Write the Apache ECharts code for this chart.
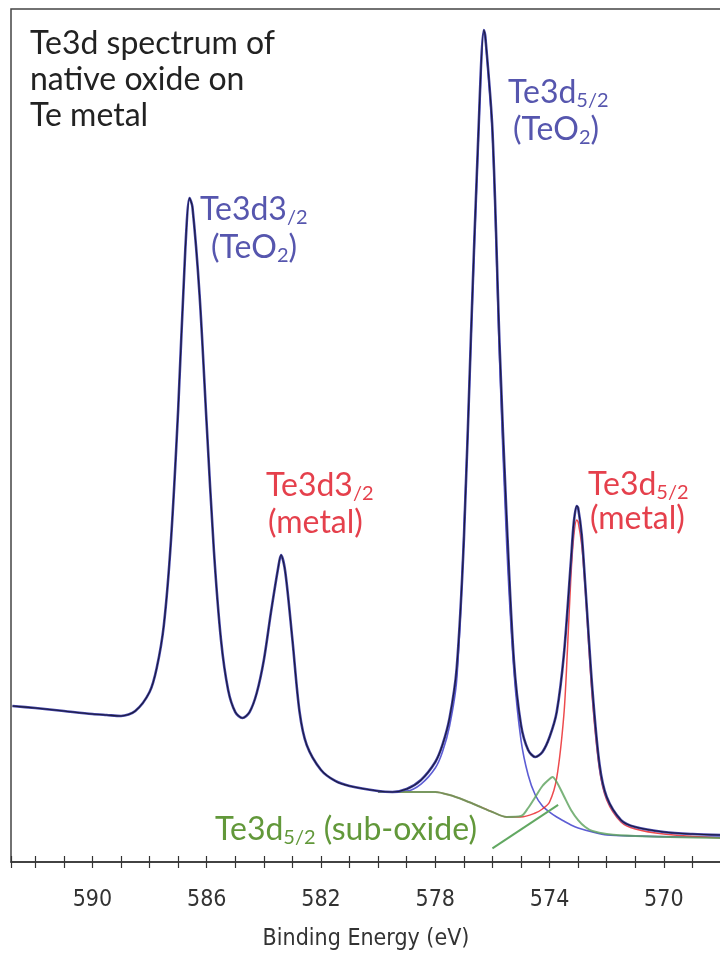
<!DOCTYPE html>
<html><head><meta charset="utf-8">
<script src="https://cdn.jsdelivr.net/npm/echarts@6/dist/echarts.min.js"></script>
<style>html,body{margin:0;padding:0;overflow:hidden;background:#fff}#c{width:724px;height:957px}</style>
</head><body><div id="c"></div>
<script>
// Binding energy (eV) and measured / fitted envelope intensity (a.u.)
const energy = [592.8,592,591,590,589.5,589,588.5,588,587.75,587.5,587.25,587,586.75,586.6,586.5,586.25,586,585.75,585.5,585.25,585,584.75,584.5,584.25,584,583.75,583.5,583.4,583.25,583,582.75,582.5,582,581.5,581,580,579.5,579,578.5,578,577.75,577.5,577.25,577,576.75,576.5,576.3,576.25,576,575.75,575.5,575.25,575,574.75,574.5,574.25,574,573.75,573.5,573.25,573.15,573.05,573,572.875,572.75,572.5,572.25,572,571.5,571,570,569,568];
const envelope = [18.29,18.05,17.70,17.35,17.23,17.12,17.70,19.93,22.74,27.78,37.75,52.99,71.75,77.84,76.79,66.47,51.23,36.58,26.03,20.16,17.58,16.88,17.58,19.81,23.68,29.31,34.47,35.99,34.0,26.03,17.58,13.72,10.79,9.50,8.91,8.32,8.21,8.56,9.61,11.72,13.72,16.88,22.74,37.75,61.78,84.64,97.54,96.83,85.82,60.61,40.09,23.68,16.06,13.13,12.31,12.90,14.65,17.58,24.27,35.40,39.86,41.74,41.50,38.34,32.47,20.16,11.37,7.62,4.92,4.10,3.52,3.28,3.17];

// Te3d5/2 TeO2 component (with background)
const teo2Energy = [580,579,578.5,578,577.75,577.5,577.25,577,576.75,576.5,576.3,576.25,576,575.75,575.5,575.25,575,574.75,574.5,574.25,574,573.75,573.5,573.25,573,572.5,572,571,569,568];
const teo2 = [8.21,8.32,9.14,11.02,12.90,15.94,21.34,38.34,61.2,84.06,97.3,96.7,85.2,58.85,37.16,22.5,14.3,10.2,7.85,6.57,5.86,5.28,4.8,4.34,3.99,3.52,3.17,3.05,2.93,2.93];

// Te3d5/2 metal component (with background)
const metalEnergy = [580,579,578,577.5,577,576.5,576,575.5,575,574.5,574.25,574,573.75,573.5,573.375,573.25,573.15,573.05,573,572.875,572.75,572.5,572.25,572,571.5,571,570,568];
const metal = [8.21,8.21,8.21,7.85,7.27,6.57,5.86,5.28,5.28,5.74,6.21,7.03,9.85,17.23,24.85,33.65,38.33,40.1,39.86,37.16,31.89,19.0,10.79,7.27,4.69,3.87,3.28,2.81];

// Te3d5/2 sub-oxide component (with background)
const subEnergy = [580,579,578,577.5,577,576.5,576,575.5,575,574.75,574.5,574.25,574,573.9,573.75,573.5,573.25,573,572.75,572.5,572,571,568];
const subOxide = [8.21,8.21,8.21,7.85,7.27,6.57,5.86,5.28,5.39,6.33,7.62,8.91,9.73,9.96,9.38,7.74,6.1,4.92,4.1,3.63,3.28,3.05,2.81];

// leader line for the sub-oxide label (energy, intensity)
const pointer = [[576.0, 1.6], [573.7, 6.7]];

const tickLabels = [590, 586, 582, 578, 574, 570];

const zip = (xs, ys) => xs.map((x, i) => [x, ys[i]]);

const blueTxt = '#5656ae', redTxt = '#e5404c', greenTxt = '#62983a';
const lab = 'Lato, "Open Sans", sans-serif';
function richStyle(color) {
  return {
    m: {fontSize: 32, fontFamily: lab, color: color, lineHeight: 36},
    s: {fontSize: 20, fontFamily: lab, color: color, lineHeight: 20, verticalAlign: 'bottom'}
  };
}
function label(x, y, text, color) {
  return {type: 'text', left: x, top: y - 18, z: 10,
    style: {text: text, rich: richStyle(color), fill: color}};
}

const chart = echarts.init(document.getElementById('c'), null, {renderer: 'canvas'});
const axisFont = '"Liberation Sans Narrow", "Arial Narrow", "DejaVu Sans Condensed", "Liberation Sans", sans-serif';
chart.setOption({
  animation: false,
  backgroundColor: '#fff',
  grid: {left: 11, right: 2, top: 9, bottom: 95, show: true, borderColor: '#444', borderWidth: 1.5},
  xAxis: [{
    type: 'value', min: 568, max: 592.85, inverse: true, interval: 1,
    axisLine: {show: true, lineStyle: {color: '#333', width: 1.5}},
    axisTick: {show: true, inside: false, length: 6, lineStyle: {color: '#333', width: 1.2}},
    splitLine: {show: false},
    axisLabel: {margin: 27, fontSize: 23, fontFamily: axisFont, color: '#333',
      formatter: v => tickLabels.includes(v) ? String(v) : ''},
    name: 'Binding Energy (eV)', nameLocation: 'middle', nameGap: 66,
    nameTextStyle: {fontSize: 23, fontFamily: axisFont, color: '#333'}
  }, {
    type: 'value', min: 568, max: 592.85, inverse: true, interval: 1, position: 'bottom',
    axisLine: {show: false}, axisLabel: {show: false}, splitLine: {show: false},
    axisTick: {show: true, inside: true, length: 6, lineStyle: {color: '#333', width: 1.2}}
  }],
  yAxis: {type: 'value', min: 0, max: 100, show: false},
  series: [
    {name: 'Te3d5/2 TeO2', type: 'line', data: zip(teo2Energy, teo2), smooth: 0.3, showSymbol: false,
      lineStyle: {color: '#5d5dd4', width: 1.6}, z: 2},
    {name: 'Te3d5/2 metal', type: 'line', data: zip(metalEnergy, metal), smooth: 0.3, showSymbol: false,
      lineStyle: {color: '#ea2a2e', width: 1.5, opacity: 0.85}, z: 3},
    {name: 'Te3d5/2 sub-oxide', type: 'line', data: zip(subEnergy, subOxide), smooth: 0.3, showSymbol: false,
      lineStyle: {color: '#5aa05a', width: 2, opacity: 0.8}, z: 3.5,
      markLine: {silent: true, symbol: 'none', label: {show: false},
        lineStyle: {color: '#62a862', width: 2, type: 'solid'},
        data: [[{coord: pointer[0]}, {coord: pointer[1]}]]}},
    {name: 'Fit', type: 'line', data: zip(energy, envelope), smooth: 0.3, showSymbol: false,
      lineStyle: {color: '#4444a8', width: 2.6}, z: 4},
    {name: 'Data', type: 'line', data: zip(energy, envelope), smooth: 0.3, showSymbol: false,
      lineStyle: {color: '#111122', width: 1.1, opacity: 0.8}, z: 5}
  ],
  graphic: [
    {type: 'text', left: 30, top: 26, z: 10,
      style: {text: 'Te3d spectrum of\nnative oxide on\nTe metal', font: '32px ' + lab, fill: '#222', lineHeight: 36}},
    label(200, 212, '{m|Te3d3}{s|/2}', blueTxt),
    label(211, 250, '{m|(TeO}{s|2}{m|)}', blueTxt),
    label(508, 95, '{m|Te3d}{s|5/2}', blueTxt),
    label(513, 132, '{m|(TeO}{s|2}{m|)}', blueTxt),
    label(266, 488, '{m|Te3d3}{s|/2}', redTxt),
    label(268, 525, '{m|(metal)}', redTxt),
    label(588, 487, '{m|Te3d}{s|5/2}', redTxt),
    label(590, 521, '{m|(metal)}', redTxt),
    label(215, 832, '{m|Te3d}{s|5/2}{m| (sub-oxide)}', greenTxt)
  ]
});
</script></body></html>
